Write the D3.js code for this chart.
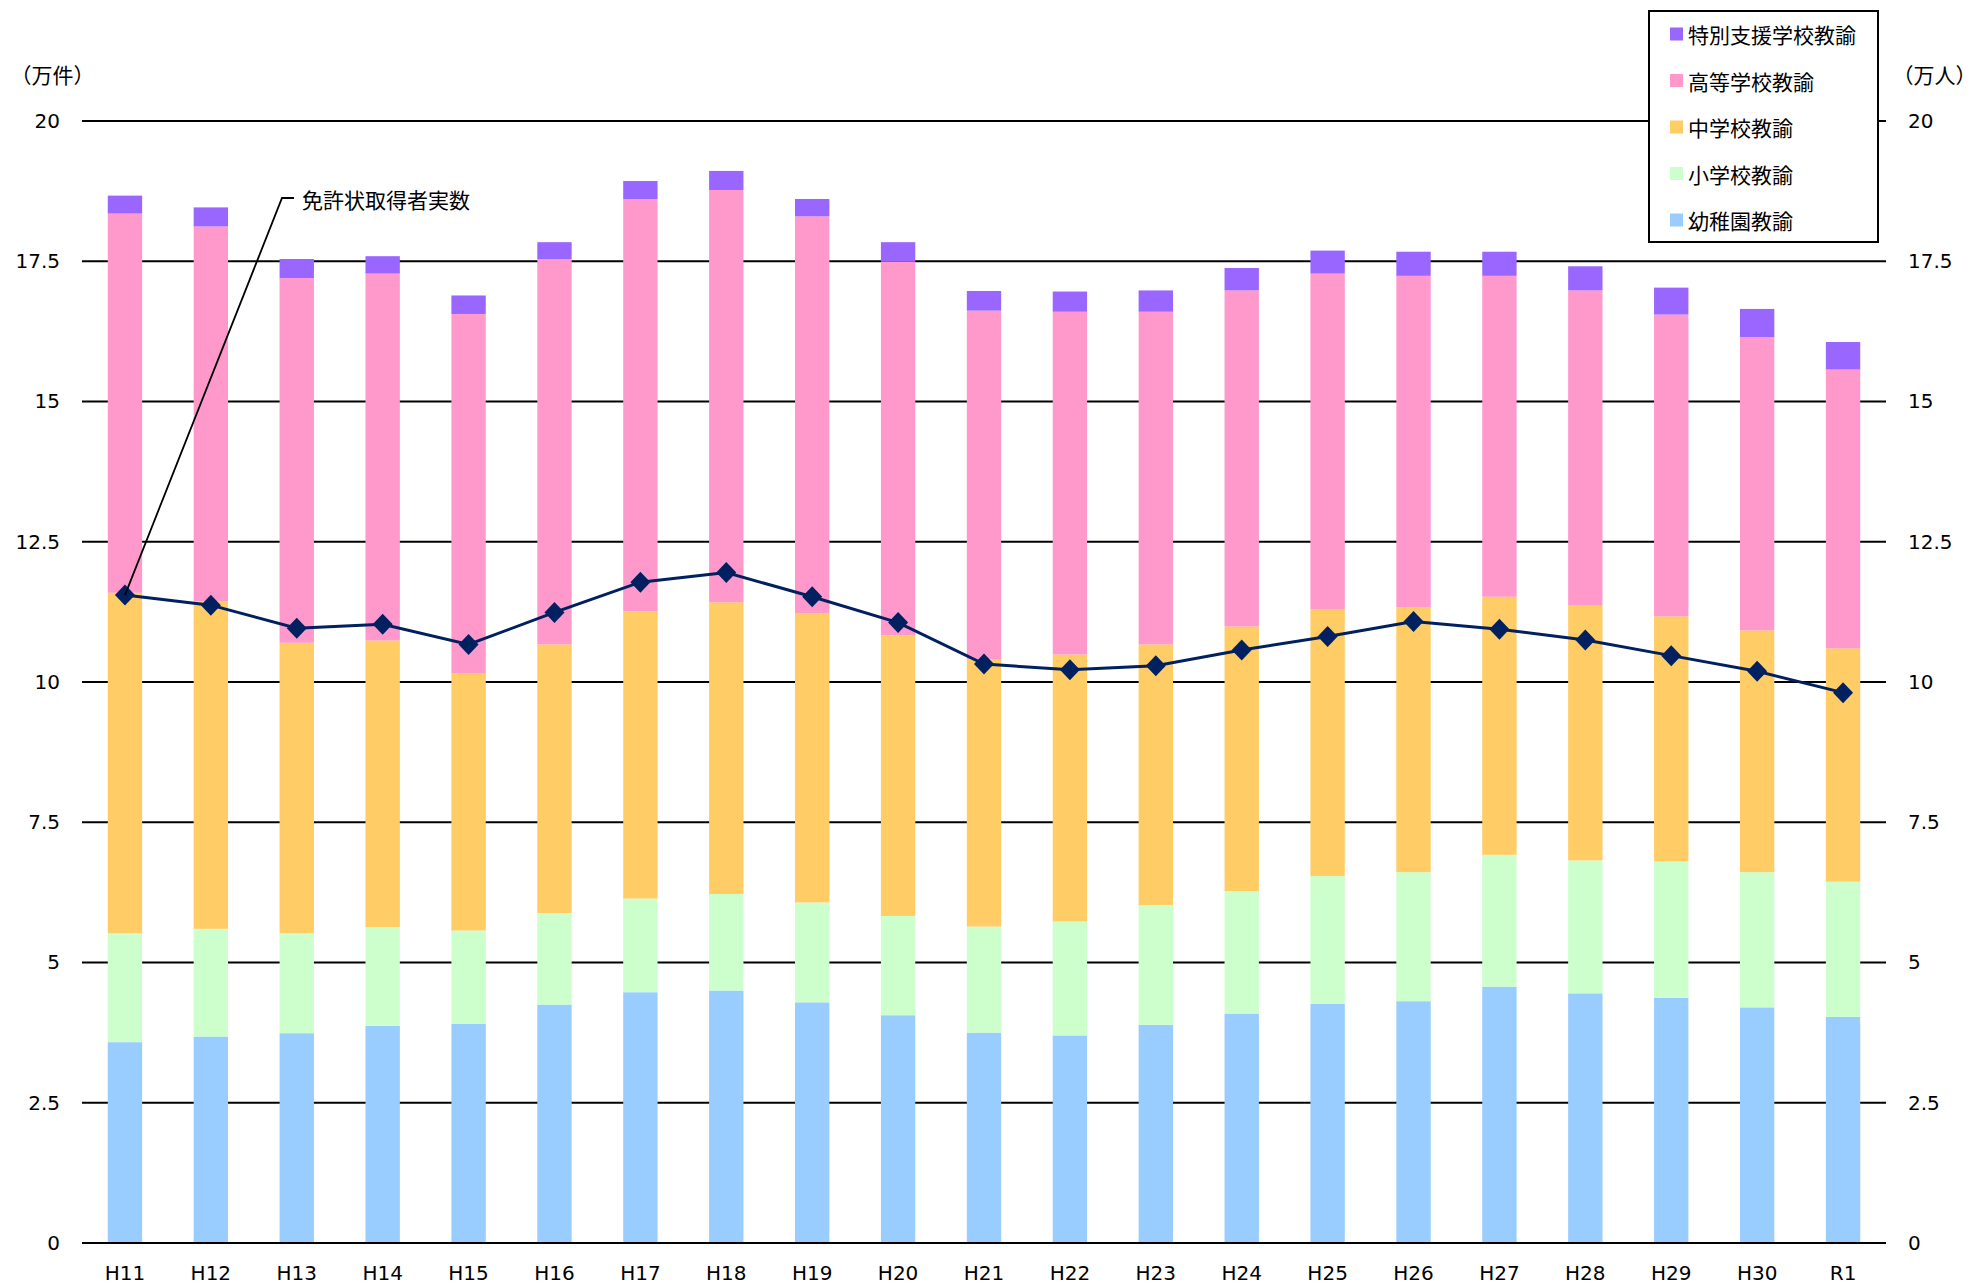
<!DOCTYPE html>
<html>
<head>
<meta charset="utf-8">
<script src="https://cdn.jsdelivr.net/npm/d3@7"></script>
<style>
  html, body { margin: 0; padding: 0; background: #fff; }
  svg { display: block; }
  text { font-family: "DejaVu Sans", "Noto Sans CJK JP", sans-serif; fill: #000; }
  .jp { font-family: "Noto Sans CJK JP", "DejaVu Sans", sans-serif; }
  .halt { font-feature-settings: "halt" 1; }
</style>
</head>
<body>
<svg id="chart" width="1975" height="1285"></svg>
<script>
const categories = ["H11","H12","H13","H14","H15","H16","H17","H18","H19","H20","H21","H22","H23","H24","H25","H26","H27","H28","H29","H30","R1"];

// 万件
const kindergarten = [3.58,3.68,3.74,3.87,3.91,4.25,4.47,4.50,4.29,4.06,3.75,3.70,3.89,4.09,4.26,4.31,4.57,4.45,4.37,4.20,4.03];
const elementary   = [1.94,1.92,1.78,1.76,1.66,1.63,1.67,1.72,1.78,1.77,1.89,2.03,2.13,2.18,2.28,2.30,2.35,2.37,2.43,2.41,2.41];
const juniorHigh   = [6.07,5.84,5.18,5.11,4.58,4.79,5.12,5.20,5.15,5.00,4.76,4.76,4.65,4.72,4.76,4.72,4.60,4.54,4.37,4.31,4.16];
const highSchool   = [6.76,6.68,6.50,6.54,6.41,6.87,7.35,7.35,7.08,6.66,6.22,6.11,5.93,5.99,5.98,5.91,5.72,5.62,5.38,5.23,4.97];
const special      = [0.32,0.34,0.34,0.31,0.33,0.30,0.32,0.34,0.31,0.35,0.35,0.36,0.38,0.40,0.41,0.43,0.43,0.43,0.48,0.50,0.49];

// 万人
const actualHolders = [11.55,11.37,10.96,11.03,10.67,11.24,11.78,11.95,11.52,11.06,10.32,10.22,10.29,10.57,10.81,11.08,10.94,10.75,10.47,10.19,9.81];

const yTicks = [0, 2.5, 5, 7.5, 10, 12.5, 15, 17.5, 20];
const yTickLabels = ["0","2.5","5","7.5","10","12.5","15","17.5","20"];

const seriesNames = ["幼稚園教諭","小学校教諭","中学校教諭","高等学校教諭","特別支援学校教諭"];
const seriesData = [kindergarten, elementary, juniorHigh, highSchool, special];
const seriesColors = ["#99CCFF","#CCFFCC","#FFCC66","#FF99CC","#9966FF"];
const lineLabel = "免許状取得者実数";

(function () {
const svg = d3.select("#chart");
const plotL = 82, plotR = 1886, plotT = 121, plotB = 1243;

const x = d3.scaleBand().domain(categories).range([plotL, plotR]).paddingInner(0.6).paddingOuter(0.3);
const y = d3.scaleLinear().domain([0, 20]).range([plotB, plotT]);
const yR = d3.scaleLinear().domain([0, 20]).range([plotB, plotT]);

// gridlines
svg.append("g").selectAll("line").data(yTicks).join("line")
  .attr("x1", plotL).attr("x2", plotR)
  .attr("y1", d => y(d)).attr("y2", d => y(d))
  .attr("stroke", "#000").attr("stroke-width", 2);

// left axis labels
const axL = d3.axisLeft(y).tickValues(yTicks).tickFormat((d,i) => yTickLabels[i]).tickSize(0).tickPadding(0);
const gL = svg.append("g").attr("transform", `translate(60,0)`).call(axL);
gL.select(".domain").remove();
gL.selectAll("text").attr("font-size", 20).attr("font-family", "DejaVu Sans").attr("fill", "#000");

// right axis labels
const axR = d3.axisRight(yR).tickValues(yTicks).tickFormat((d,i) => yTickLabels[i]).tickSize(0).tickPadding(0);
const gR = svg.append("g").attr("transform", `translate(1908,0)`).call(axR);
gR.select(".domain").remove();
gR.selectAll("text").attr("font-size", 20).attr("font-family", "DejaVu Sans").attr("fill", "#000");

// stacked bars
const table = categories.map((c, i) => {
  const o = { cat: c };
  seriesNames.forEach((n, k) => o[n] = seriesData[k][i]);
  return o;
});
const stack = d3.stack().keys(seriesNames)(table);
svg.append("g").selectAll("g").data(stack).join("g")
  .attr("fill", (d, k) => seriesColors[k])
  .selectAll("rect").data(d => d).join("rect")
  .attr("x", d => x(d.data.cat))
  .attr("width", x.bandwidth())
  .attr("y", d => y(d[1]))
  .attr("height", d => y(d[0]) - y(d[1]));

// baseline on top
svg.append("line").attr("x1", plotL).attr("x2", plotR).attr("y1", y(0)).attr("y2", y(0))
  .attr("stroke", "#000").attr("stroke-width", 2);

// x labels
const axB = d3.axisBottom(x).tickSize(0).tickPadding(0);
const gB = svg.append("g").attr("transform", `translate(0,${plotB})`).call(axB);
gB.select(".domain").remove();
gB.selectAll("text").attr("font-size", 20).attr("font-family", "DejaVu Sans").attr("fill", "#000")
  .attr("dy", null).attr("y", 37);

// line
const cx = c => x(c) + x.bandwidth() / 2;
svg.append("path").datum(actualHolders)
  .attr("fill", "none").attr("stroke", "#002060").attr("stroke-width", 3)
  .attr("d", d3.line().x((d, i) => cx(categories[i])).y(d => yR(d)));
svg.append("g").selectAll("path").data(actualHolders).join("path")
  .attr("transform", (d, i) => `translate(${cx(categories[i])},${yR(d)})`)
  .attr("d", "M0,-10.5L10,0L0,10.5L-10,0Z")
  .attr("fill", "#002060");

// annotation leader
const ax0 = cx(categories[0]), ay0 = yR(actualHolders[0]);
svg.append("path")
  .attr("d", `M${ax0},${ay0}L282,198L294,198`)
  .attr("fill", "none").attr("stroke", "#000").attr("stroke-width", 1.8);
svg.append("text").attr("class", "jp").attr("x", 302).attr("y", 199)
  .attr("dominant-baseline", "central").attr("font-size", 21).text(lineLabel);

// axis unit labels
svg.append("text").attr("class", "jp halt").attr("x", 21).attr("y", 74)
  .attr("dominant-baseline", "central").attr("font-size", 21).text("（万件）");
svg.append("text").attr("class", "jp halt").attr("x", 1903).attr("y", 74)
  .attr("dominant-baseline", "central").attr("font-size", 21).text("（万人）");

// legend
const lg = svg.append("g");
lg.append("rect").attr("x", 1649).attr("y", 11).attr("width", 229).attr("height", 231)
  .attr("fill", "#fff").attr("stroke", "#000").attr("stroke-width", 2);
const legendOrder = [4, 3, 2, 1, 0];
legendOrder.forEach((k, j) => {
  const cy = 34 + j * 46.5;
  lg.append("rect").attr("x", 1670).attr("y", cy - 6.5).attr("width", 13).attr("height", 13)
    .attr("fill", seriesColors[k]);
  lg.append("text").attr("class", "jp").attr("x", 1688).attr("y", cy)
    .attr("dominant-baseline", "central").attr("font-size", 21).text(seriesNames[k]);
});
})();
</script>
</body>
</html>
